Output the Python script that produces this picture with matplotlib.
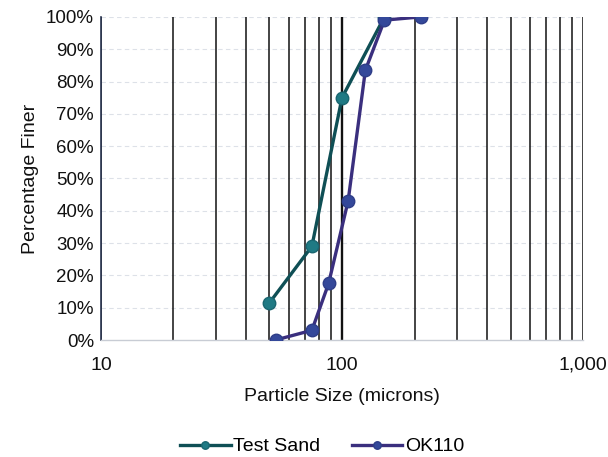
import matplotlib
matplotlib.use("Agg")
import matplotlib.pyplot as plt
from matplotlib.ticker import FixedLocator, NullFormatter

plt.rcParams['font.family'] = ['Liberation Sans', 'DejaVu Sans']

test_sand_size = [50, 75, 100, 150]
test_sand_pct = [11.5, 29, 75, 100]
ok110_size = [53, 75, 88, 106, 125, 150, 212]
ok110_pct = [0, 3, 17.5, 43, 83.5, 99, 100]

x_ticks = [10, 100, 1000]
x_tick_labels = ["10", "100", "1,000"]
grid_x = [10, 20, 30, 40, 50, 60, 70, 80, 90, 100, 200, 300, 400, 500, 600, 700, 800, 900, 1000]
y_ticks = list(range(0, 101, 10))

fig = plt.figure(figsize=(6.08, 4.57), dpi=100)
ax = fig.add_axes([0.166, 0.256, 0.793, 0.707])

ax.set_xscale('log')
ax.set_xlim(10, 1000)
ax.set_ylim(0, 100)

for g in grid_x:
    lw = 1.7 if g == 100 else 1.1
    ax.axvline(g, color='#111111', lw=lw, zorder=1)
for yv in y_ticks[1:]:
    ax.axhline(yv, color='#dde1e8', lw=0.8, ls=(0, (4, 3)), zorder=0.5)

ax.plot(test_sand_size, test_sand_pct, color='#0f4f55', lw=2.4, marker='o',
        markersize=9, markerfacecolor='#1f7a84', markeredgecolor='#1a6670', zorder=3,
        label='Test Sand')
ax.plot(ok110_size, ok110_pct, color='#3a2f7e', lw=2.4, marker='o',
        markersize=9, markerfacecolor='#34489a', markeredgecolor='#2e3d88', zorder=4,
        label='OK110')

ax.xaxis.set_major_locator(FixedLocator(x_ticks))
ax.xaxis.set_minor_locator(FixedLocator([]))
ax.xaxis.set_minor_formatter(NullFormatter())
ax.set_xticks(x_ticks)
ax.set_xticklabels(x_tick_labels)
ax.set_yticks(y_ticks)
ax.set_yticklabels([f"{v}%" for v in y_ticks])
ax.tick_params(axis='both', length=0, labelsize=14, colors='#111111')
ax.tick_params(axis='x', pad=12)
ax.tick_params(axis='y', labelsize=13.5, pad=5)

for s in ['top', 'right']:
    ax.spines[s].set_visible(False)
ax.spines['left'].set_color('#2a3550')
ax.spines['left'].set_linewidth(1.2)
ax.spines['bottom'].set_color('#c8ccd4')
ax.spines['bottom'].set_linewidth(1.0)

ax.set_xlabel('Particle Size (microns)', fontsize=14, labelpad=10, color='#111111')
ax.set_ylabel('Percentage Finer', fontsize=14, labelpad=5, color='#111111')

fig.legend(loc='lower center', bbox_to_anchor=(0.53, -0.035), ncol=2, frameon=False,
           fontsize=14, handlelength=2.6, columnspacing=1.6, handletextpad=0.15,
           markerscale=0.6)

fig.savefig('out.png', dpi=100)
